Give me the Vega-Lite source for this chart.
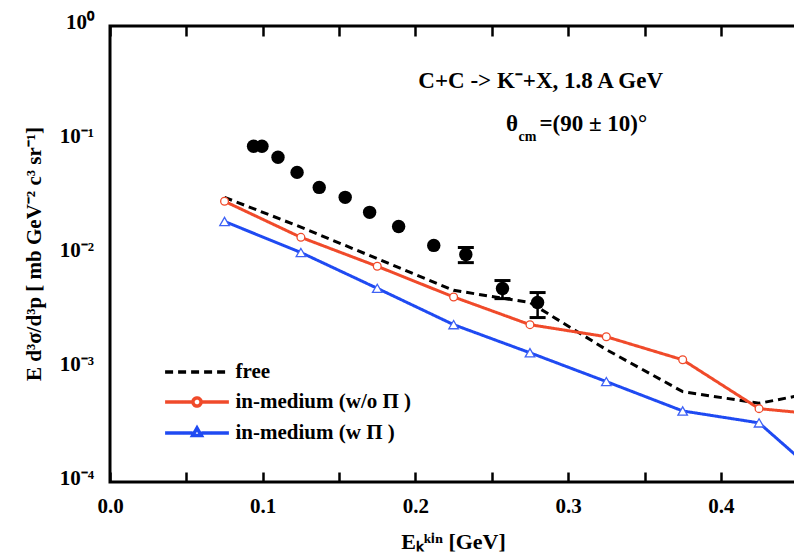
{
  "$schema": "https://vega.github.io/schema/vega-lite/v6.json",
  "width": 686,
  "height": 456,
  "autosize": {"type": "none"},
  "padding": {"left": 110, "top": 26, "right": 0, "bottom": 73},
  "background": "white",
  "config": {
    "view": {"stroke": "black", "strokeWidth": 3},
    "font": "Liberation Serif",
    "axis": {
      "grid": false,
      "domain": false,
      "tickColor": "black",
      "tickWidth": 2.5,
      "labelFont": "Liberation Serif",
      "labelFontWeight": "bold",
      "labelColor": "black",
      "labelFlush": false,
      "labelOverlap": false,
      "titleFont": "Liberation Serif",
      "titleFontWeight": "bold",
      "titleColor": "black"
    },
    "legend": {
      "padding": 0,
      "symbolSize": 841,
      "symbolStrokeWidth": 3.5,
      "labelFont": "Liberation Serif",
      "labelFontWeight": "bold",
      "labelFontSize": 21,
      "labelColor": "black",
      "labelLimit": 0,
      "labelOffset": 22,
      "rowPadding": 3
    }
  },
  "datasets": {
    "models": [
      {"x": 0.075, "model": "free", "y": 0.0314},
      {"x": 0.125, "model": "free", "y": 0.0172},
      {"x": 0.175, "model": "free", "y": 0.0091},
      {"x": 0.225, "model": "free", "y": 0.0048},
      {"x": 0.275, "model": "free", "y": 0.00375},
      {"x": 0.325, "model": "free", "y": 0.00145},
      {"x": 0.375, "model": "free", "y": 0.00062},
      {"x": 0.425, "model": "free", "y": 0.00049},
      {"x": 0.475, "model": "free", "y": 0.00066},
      {"x": 0.075, "model": "in-medium (w/o Π )", "y": 0.029},
      {"x": 0.125, "model": "in-medium (w/o Π )", "y": 0.014},
      {"x": 0.175, "model": "in-medium (w/o Π )", "y": 0.0078},
      {"x": 0.225, "model": "in-medium (w/o Π )", "y": 0.0042},
      {"x": 0.275, "model": "in-medium (w/o Π )", "y": 0.0024},
      {"x": 0.325, "model": "in-medium (w/o Π )", "y": 0.00188},
      {"x": 0.375, "model": "in-medium (w/o Π )", "y": 0.00118},
      {"x": 0.425, "model": "in-medium (w/o Π )", "y": 0.00044},
      {"x": 0.475, "model": "in-medium (w/o Π )", "y": 0.00038},
      {"x": 0.075, "model": "in-medium (w Π )", "y": 0.0193},
      {"x": 0.125, "model": "in-medium (w Π )", "y": 0.0103},
      {"x": 0.175, "model": "in-medium (w Π )", "y": 0.005},
      {"x": 0.225, "model": "in-medium (w Π )", "y": 0.0024},
      {"x": 0.275, "model": "in-medium (w Π )", "y": 0.00136},
      {"x": 0.325, "model": "in-medium (w Π )", "y": 0.00076},
      {"x": 0.375, "model": "in-medium (w Π )", "y": 0.00042},
      {"x": 0.425, "model": "in-medium (w Π )", "y": 0.00033},
      {"x": 0.475, "model": "in-medium (w Π )", "y": 0.000085}
    ],
    "exp": [
      {"x": 0.094, "y": 0.0881},
      {"x": 0.0995, "y": 0.0881},
      {"x": 0.110, "y": 0.0705},
      {"x": 0.1225, "y": 0.052},
      {"x": 0.137, "y": 0.0384},
      {"x": 0.154, "y": 0.0314},
      {"x": 0.170, "y": 0.0232},
      {"x": 0.189, "y": 0.01745},
      {"x": 0.212, "y": 0.0119},
      {"x": 0.233, "y": 0.0099, "lo": 0.0084, "hi": 0.0114},
      {"x": 0.257, "y": 0.00498, "lo": 0.00406, "hi": 0.00585},
      {"x": 0.280, "y": 0.00375, "lo": 0.00277, "hi": 0.00459}
    ],
    "ylabels": [
      {"v": 1, "label": "10⁰"},
      {"v": 0.1, "label": "10⁻¹"},
      {"v": 0.01, "label": "10⁻²"},
      {"v": 0.001, "label": "10⁻³"},
      {"v": 0.0001, "label": "10⁻⁴"}
    ]
  },
  "layer": [
    {
      "data": {"name": "models"},
      "mark": {"type": "line", "strokeWidth": 3, "clip": true},
      "encoding": {
        "x": {
          "field": "x", "type": "quantitative",
          "scale": {"domain": [0, 0.4492], "nice": false, "zero": false},
          "axis": {
            "orient": "bottom",
            "offset": -10,
            "values": [0, 0.05, 0.1, 0.15, 0.2, 0.25, 0.3, 0.35, 0.4, 0.45],
            "labelExpr": "abs(datum.value*10-round(datum.value*10))<0.001 ? format(datum.value,'.1f') : ''",
            "tickSize": 10,
            "labelFontSize": 21,
            "labelPadding": 13,
            "title": "Eₖᵏⁱⁿ [GeV]",
            "titleFontSize": 22,
            "titlePadding": 15
          }
        },
        "y": {"field": "y", "type": "quantitative", "scale": {"type": "log", "domain": [0.0001, 1], "nice": false}, "axis": null},
        "color": {
          "field": "model", "type": "nominal",
          "scale": {"domain": ["free", "in-medium (w/o Π )", "in-medium (w Π )"], "range": ["#000000", "#f04a2a", "#1f4af2"]},
          "legend": {
            "orient": "none", "legendX": 70.5, "legendY": 329.5, "title": null,
            "encode": {"symbols": {"update": {
              "shape": {"signal": "datum.value === 'free' ? 'M-2.2,0H2.2' : datum.value === 'in-medium (w/o Π )' ? 'M-2.2,0H-0.28M0.28,0H2.2M0.28,0A0.28,0.28 0 1,1 -0.28,0A0.28,0.28 0 1,1 0.28,0Z' : 'M-2.2,0H-0.3M0.3,0H2.2M0,-0.34L0.3,0.18L-0.3,0.18Z'"},
              "fill": {"value": "white"}
            }}}
          }
        },
        "strokeDash": {
          "field": "model", "type": "nominal",
          "scale": {"domain": ["free", "in-medium (w/o Π )", "in-medium (w Π )"], "range": [[8, 5], [1, 0], [1, 0]]},
          "legend": {"orient": "none", "legendX": 70.5, "legendY": 329.5, "title": null}
        }
      }
    },
    {
      "data": {"name": "models"},
      "transform": [{"filter": "datum.model === 'in-medium (w/o Π )'"}],
      "mark": {"type": "point", "shape": "circle", "size": 60, "filled": true, "fill": "white", "stroke": "#f04a2a", "strokeWidth": 1.3, "opacity": 1, "clip": true},
      "encoding": {
        "x": {"field": "x", "type": "quantitative", "scale": {"domain": [0, 0.4492], "nice": false, "zero": false}, "axis": null},
        "y": {"field": "y", "type": "quantitative", "scale": {"type": "log", "domain": [0.0001, 1], "nice": false}, "axis": null}
      }
    },
    {
      "data": {"name": "models"},
      "transform": [{"filter": "datum.model === 'in-medium (w Π )'"}],
      "mark": {"type": "point", "shape": "triangle-up", "size": 90, "filled": true, "fill": "white", "stroke": "#3f62f5", "strokeWidth": 1.3, "opacity": 1, "clip": true},
      "encoding": {
        "x": {"field": "x", "type": "quantitative", "scale": {"domain": [0, 0.4492], "nice": false, "zero": false}, "axis": null},
        "y": {"field": "y", "type": "quantitative", "scale": {"type": "log", "domain": [0.0001, 1], "nice": false}, "axis": null}
      }
    },
    {
      "data": {"name": "exp"},
      "transform": [{"filter": "isValid(datum.lo)"}],
      "mark": {"type": "rule", "strokeWidth": 2.5, "color": "black"},
      "encoding": {
        "x": {"field": "x", "type": "quantitative", "scale": {"domain": [0, 0.4492], "nice": false, "zero": false}, "axis": null},
        "y": {"field": "lo", "type": "quantitative", "scale": {"type": "log", "domain": [0.0001, 1], "nice": false}, "axis": null},
        "y2": {"field": "hi"}
      }
    },
    {
      "data": {"name": "exp"},
      "transform": [{"filter": "isValid(datum.lo)"}, {"fold": ["lo", "hi"], "as": ["end", "v"]}],
      "mark": {"type": "tick", "orient": "horizontal", "size": 16, "thickness": 3, "color": "black", "opacity": 1},
      "encoding": {
        "x": {"field": "x", "type": "quantitative", "scale": {"domain": [0, 0.4492], "nice": false, "zero": false}, "axis": null},
        "y": {"field": "v", "type": "quantitative", "scale": {"type": "log", "domain": [0.0001, 1], "nice": false}, "axis": null}
      }
    },
    {
      "data": {"name": "exp"},
      "mark": {"type": "point", "shape": "circle", "size": 180, "filled": true, "color": "black", "opacity": 1},
      "encoding": {
        "x": {
          "field": "x", "type": "quantitative", "scale": {"domain": [0, 0.4492], "nice": false, "zero": false},
          "axis": {"orient": "top", "title": null, "labels": false, "offset": -10, "values": [0, 0.05, 0.1, 0.15, 0.2, 0.25, 0.3, 0.35, 0.4, 0.45], "tickSize": 10}
        },
        "y": {"field": "y", "type": "quantitative", "scale": {"type": "log", "domain": [0.0001, 1], "nice": false}, "axis": null}
      }
    },
    {
      "data": {"name": "ylabels"},
      "mark": {"type": "text", "font": "Liberation Serif", "fontWeight": "bold", "fontSize": 21, "align": "right", "baseline": "middle", "color": "black", "dy": -3, "clip": false},
      "encoding": {
        "x": {"datum": -0.0105, "type": "quantitative", "scale": {"domain": [0, 0.4492], "nice": false, "zero": false}, "axis": null},
        "y": {"field": "v", "type": "quantitative", "scale": {"type": "log", "domain": [0.0001, 1], "nice": false}, "axis": null},
        "text": {"field": "label"}
      }
    },
    {
      "data": {"values": [{"v": 0.01, "label": "E d³σ/d³p  [ mb GeV⁻² c³ sr⁻¹]"}]},
      "mark": {"type": "text", "font": "Liberation Serif", "fontWeight": "bold", "fontSize": 21, "align": "center", "baseline": "middle", "angle": 270, "color": "black", "clip": false},
      "encoding": {
        "x": {"datum": -0.049, "type": "quantitative", "scale": {"domain": [0, 0.4492], "nice": false, "zero": false}, "axis": null},
        "y": {"field": "v", "type": "quantitative", "scale": {"type": "log", "domain": [0.0001, 1], "nice": false}, "axis": null},
        "text": {"field": "label"}
      }
    },
    {
      "data": {"values": [{"x": 0.282, "y": 0.33, "label": "C+C -> K⁻+X, 1.8 A GeV"}]},
      "mark": {"type": "text", "font": "Liberation Serif", "fontWeight": "bold", "fontSize": 23, "align": "center", "baseline": "middle", "color": "black"},
      "encoding": {
        "x": {"field": "x", "type": "quantitative", "scale": {"domain": [0, 0.4492], "nice": false, "zero": false}, "axis": null},
        "y": {"field": "y", "type": "quantitative", "scale": {"type": "log", "domain": [0.0001, 1], "nice": false}, "axis": null},
        "text": {"field": "label"}
      }
    },
    {
      "data": {"values": [{"x": 0.2633, "y": 0.1376, "label": "θ"}]},
      "mark": {"type": "text", "font": "Liberation Serif", "fontWeight": "bold", "fontSize": 23, "align": "center", "baseline": "middle", "color": "black"},
      "encoding": {
        "x": {"field": "x", "type": "quantitative", "scale": {"domain": [0, 0.4492], "nice": false, "zero": false}, "axis": null},
        "y": {"field": "y", "type": "quantitative", "scale": {"type": "log", "domain": [0.0001, 1], "nice": false}, "axis": null},
        "text": {"field": "label"}
      }
    },
    {
      "data": {"values": [{"x": 0.2812, "y": 0.1376, "label": "=(90 ± 10)°"}]},
      "mark": {"type": "text", "font": "Liberation Serif", "fontWeight": "bold", "fontSize": 23, "align": "left", "baseline": "middle", "color": "black"},
      "encoding": {
        "x": {"field": "x", "type": "quantitative", "scale": {"domain": [0, 0.4492], "nice": false, "zero": false}, "axis": null},
        "y": {"field": "y", "type": "quantitative", "scale": {"type": "log", "domain": [0.0001, 1], "nice": false}, "axis": null},
        "text": {"field": "label"}
      }
    },
    {
      "data": {"values": [{"x": 0.2734, "y": 0.106, "label": "cm"}]},
      "mark": {"type": "text", "font": "Liberation Serif", "fontWeight": "bold", "fontSize": 14, "align": "center", "baseline": "middle", "color": "black"},
      "encoding": {
        "x": {"field": "x", "type": "quantitative", "scale": {"domain": [0, 0.4492], "nice": false, "zero": false}, "axis": null},
        "y": {
          "field": "y", "type": "quantitative", "scale": {"type": "log", "domain": [0.0001, 1], "nice": false},
          "axis": {
            "orient": "left", "labels": false, "title": null, "offset": -10, "tickSize": 10,
            "values": [0.0001, 0.0002, 0.0003, 0.0004, 0.0005, 0.0006, 0.0007, 0.0008, 0.0009, 0.001, 0.002, 0.003, 0.004, 0.005, 0.006, 0.007, 0.008, 0.009, 0.01, 0.02, 0.03, 0.04, 0.05, 0.06, 0.07, 0.08, 0.09, 0.1, 0.2, 0.3, 0.4, 0.5, 0.6, 0.7, 0.8, 0.9, 1]
          }
        },
        "text": {"field": "label"}
      }
    }
  ]
}
